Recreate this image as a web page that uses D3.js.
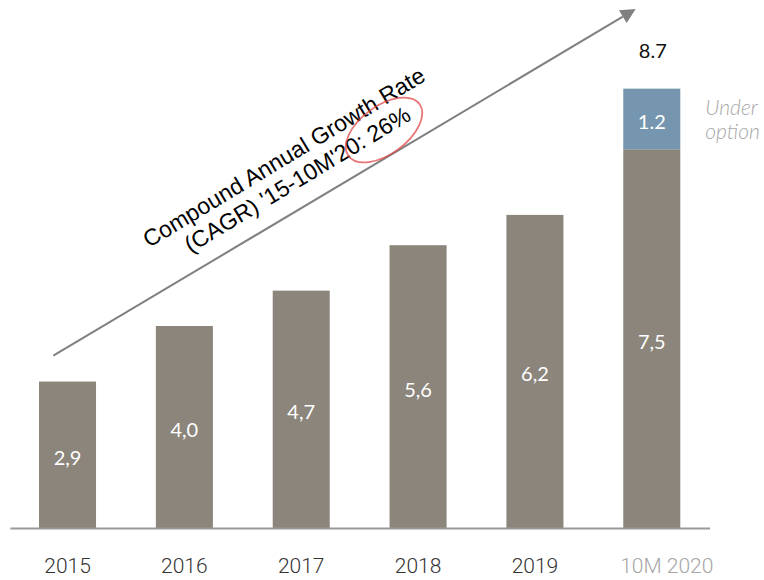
<!DOCTYPE html>
<html>
<head>
<meta charset="utf-8">
<script src="https://cdn.jsdelivr.net/npm/d3@7"></script>
<style>
  html, body { margin: 0; padding: 0; background: #fff; }
  svg { display: block; }
</style>
</head>
<body>
<svg id="chart" width="764" height="580"></svg>
<script>
// Yearly volumes (the last period covers ten months of 2020)
const categories = ["2015", "2016", "2017", "2018", "2019", "10M 2020"];
const baseValues = [2.9, 4.0, 4.7, 5.6, 6.2, 7.5];
const optionValues = [0, 0, 0, 0, 0, 1.2];
const baseLabels = ["2,9", "4,0", "4,7", "5,6", "6,2", "7,5"];
const optionLabels = ["", "", "", "", "", "1.2"];
const totalLabel = "8.7";
const optionNote = ["Under", "option"];
const cagrLines = ["Compound Annual Growth Rate", "(CAGR) '15-10M'20: 26%"];

const svg = d3.select("#chart");

const baseColor = "#8b857b";
const optionColor = "#7596ae";
const labelFont = "Lato, 'Open Sans', sans-serif";

const x = d3.scaleBand()
  .domain(categories)
  .range([9.8, 709.5])
  .paddingInner(0.512)
  .paddingOuter(0.25);

const y = d3.scaleLinear()
  .domain([0, 10])
  .range([528, 23]);

const rows = categories.map((c, i) => ({
  cat: c,
  base: baseValues[i],
  opt: optionValues[i],
  baseLabel: baseLabels[i],
  optLabel: optionLabels[i]
}));

// Base bars
svg.append("g").selectAll("rect")
  .data(rows)
  .join("rect")
  .attr("x", d => x(d.cat))
  .attr("width", x.bandwidth())
  .attr("y", d => y(d.base))
  .attr("height", d => y(0) - y(d.base))
  .attr("fill", baseColor);

// Stacked "under option" segment
svg.append("g").selectAll("rect")
  .data(rows.filter(d => d.opt > 0))
  .join("rect")
  .attr("x", d => x(d.cat))
  .attr("width", x.bandwidth())
  .attr("y", d => y(d.base + d.opt))
  .attr("height", d => y(d.base) - y(d.base + d.opt))
  .attr("fill", optionColor);

// Value labels inside the bars
svg.append("g").selectAll("text")
  .data(rows)
  .join("text")
  .attr("x", d => x(d.cat) + x.bandwidth() / 2)
  .attr("y", d => (y(0) + y(d.base)) / 2)
  .attr("dy", "0.5em")
  .attr("text-anchor", "middle")
  .attr("font-family", labelFont)
  .attr("font-size", 20)
  .attr("fill", "#fff")
  .text(d => d.baseLabel);

svg.append("g").selectAll("text")
  .data(rows.filter(d => d.opt > 0))
  .join("text")
  .attr("x", d => x(d.cat) + x.bandwidth() / 2)
  .attr("y", d => (y(d.base) + y(d.base + d.opt)) / 2)
  .attr("dy", "0.5em")
  .attr("text-anchor", "middle")
  .attr("font-family", labelFont)
  .attr("font-size", 20)
  .attr("fill", "#fff")
  .text(d => d.optLabel);

// Total above the last bar
const last = rows[rows.length - 1];
svg.append("text")
  .attr("x", x(last.cat) + x.bandwidth() / 2 + 1)
  .attr("y", y(last.base + last.opt) - 31)
  .attr("text-anchor", "middle")
  .attr("font-family", labelFont)
  .attr("font-size", 20)
  .attr("fill", "#111")
  .text(totalLabel);

// "Under option" note, one text per line
const noteX = x(last.cat) + x.bandwidth() + 25;
const noteY = y(last.base + last.opt) + 26;
svg.append("g").selectAll("text")
  .data(optionNote)
  .join("text")
  .attr("x", noteX)
  .attr("y", (d, i) => noteY + i * 24)
  .attr("font-family", labelFont)
  .attr("font-style", "italic")
  .attr("font-weight", 300)
  .attr("font-size", 21)
  .attr("fill", "#a8a8a8")
  .text(d => d);

// Category axis
const axis = svg.append("g")
  .attr("transform", `translate(0,${y(0)})`)
  .call(d3.axisBottom(x).tickSize(0).tickPadding(30));
axis.select(".domain")
  .attr("stroke", "#9a9a9a")
  .attr("stroke-width", 2);
axis.selectAll(".tick text")
  .attr("font-family", "Roboto, sans-serif")
  .attr("font-weight", 300)
  .attr("font-size", 21)
  .attr("fill", d => d === last.cat ? "#a6a6a6" : "#333")
  .attr("dx", d => d === last.cat ? 15 : 0);

// Growth arrow
const arrowStart = [53.3, 355.7];
const arrowTip = [635.7, 9];
const ang = Math.atan2(arrowTip[1] - arrowStart[1], arrowTip[0] - arrowStart[0]);
const headLen = 15, headHalf = 7.5;
const baseMid = [arrowTip[0] - headLen * Math.cos(ang), arrowTip[1] - headLen * Math.sin(ang)];
svg.append("line")
  .attr("x1", arrowStart[0]).attr("y1", arrowStart[1])
  .attr("x2", baseMid[0]).attr("y2", baseMid[1])
  .attr("stroke", "#808080")
  .attr("stroke-width", 2);
const nx = -Math.sin(ang), ny = Math.cos(ang);
svg.append("path")
  .attr("d", d3.line()([
    arrowTip,
    [baseMid[0] + nx * headHalf, baseMid[1] + ny * headHalf],
    [baseMid[0] - nx * headHalf, baseMid[1] - ny * headHalf]
  ]) + "Z")
  .attr("fill", "#808080");

// CAGR caption along the arrow
const angDeg = ang * 180 / Math.PI - 0.4;
const cagr = svg.append("text")
  .attr("transform", `translate(288,164) rotate(${angDeg})`)
  .attr("text-anchor", "middle")
  .attr("font-family", "'Liberation Sans', Arial, sans-serif")
  .attr("font-size", 23)
  .attr("fill", "#000");
cagr.selectAll("tspan")
  .data(cagrLines)
  .join("tspan")
  .attr("x", 0)
  .attr("y", (d, i) => i * 26)
  .text(d => d);

// Hand-drawn red ring around the rate
svg.append("ellipse")
  .attr("transform", `translate(384,130) rotate(${angDeg - 5})`)
  .attr("rx", 44)
  .attr("ry", 24)
  .attr("fill", "none")
  .attr("stroke", "#e04848")
  .attr("stroke-opacity", 0.75)
  .attr("stroke-width", 1.8);
</script>
</body>
</html>
